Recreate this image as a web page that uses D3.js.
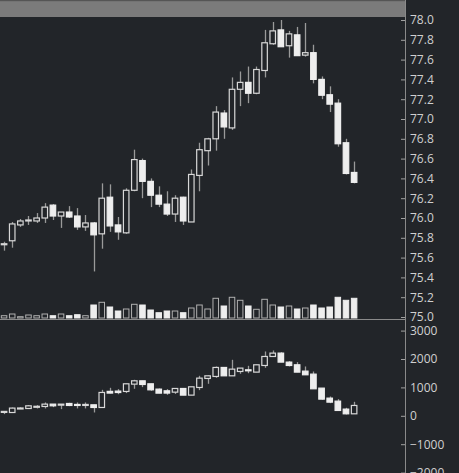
<!DOCTYPE html>
<html><head><meta charset="utf-8">
<script src="https://cdn.jsdelivr.net/npm/d3@7"></script>
<style>
html,body{margin:0;padding:0;background:#222529;overflow:hidden;}
svg{display:block;}
</style></head>
<body>
<script>
// Price candles
const open  = [75.73,75.77,75.93,75.97,75.97,76.00,76.13,76.02,76.06,76.02,75.91,75.95,75.84,76.21,75.93,75.85,76.28,76.58,76.37,76.23,76.14,76.04,76.21,75.96,76.43,76.68,76.80,77.06,76.91,77.30,77.37,77.26,77.49,77.76,77.90,77.74,77.85,77.645,77.67,77.40,77.245,77.16,76.76,76.46];
const high  = [75.76,75.96,75.99,76.02,76.05,76.15,76.14,76.06,76.12,76.10,76.03,75.96,76.35,76.34,76.01,76.30,76.69,76.60,76.40,76.32,76.27,76.23,76.215,76.49,76.76,76.81,77.13,77.09,77.42,77.48,77.53,77.53,77.90,77.98,78.00,77.89,77.93,77.97,77.75,77.43,77.33,77.20,76.80,76.57];
const low   = [75.67,75.70,75.91,75.93,75.95,75.95,75.98,75.90,76.00,75.88,75.87,75.46,75.69,75.86,75.78,75.84,76.27,76.20,76.11,76.11,76.02,75.96,75.93,75.96,76.27,76.53,76.68,76.80,76.89,77.13,77.16,77.25,77.42,77.75,77.73,77.62,77.64,77.63,77.36,77.20,77.07,76.72,76.44,76.35];
const close = [75.74,75.94,75.97,75.98,76.00,76.11,76.02,76.06,76.01,75.91,75.95,75.83,76.20,75.92,75.86,76.28,76.59,76.37,76.23,76.14,76.04,76.20,75.97,76.44,76.69,76.80,77.07,76.92,77.30,77.37,77.26,77.50,77.77,77.89,77.73,77.86,77.64,77.67,77.40,77.24,77.15,76.75,76.45,76.36];
const volume = [23,40,13,30,23,40,23,40,23,33,23,130,157,110,70,90,137,130,80,53,70,70,53,100,130,90,197,120,207,177,120,87,187,130,110,120,90,100,130,100,110,207,177,197];
// Indicator candles (lower panel)
const open2  = [145,116,265,257,320,328,411,375,434,400,375,387,293,860,870,857,1115,1232,1127,939,880,833,962,728,997,1315,1385,1702,1408,1561,1620,1538,1772,2089,2207,1890,1796,1573,1467,974,622,516,235,70];
const high2  = [160,290,300,380,375,470,411,411,458,470,470,390,915,986,940,1127,1268,1232,1127,960,940,962,962,1021,1408,1420,1736,1702,1972,1679,1760,1796,2265,2300,2240,1925,1890,1737,1560,974,680,587,282,493];
const low2   = [60,116,247,257,258,258,305,235,340,260,260,117,293,790,760,800,951,1010,880,798,740,770,728,728,904,1127,1338,1408,1408,1480,1500,1538,1690,2089,1890,1737,1538,1444,950,570,446,188,47,70];
const close2 = [155,271,275,352,335,411,352,411,364,375,400,293,822,800,820,1127,1232,1103,915,798,800,962,728,1021,1326,1408,1702,1408,1643,1679,1585,1796,2089,2207,1890,1772,1538,1444,951,587,481,188,70,364];
const priceTicks = d3.range(75.0, 78.001, 0.2);
const indTicks = [-2000,-1000,0,1000,2000,3000];

const W = 459, H = 473, axisX = 405;
const svg = d3.select("body").append("svg").attr("width", W).attr("height", H);
svg.append("rect").attr("width", W).attr("height", H).attr("fill", "#222529");

const idx = d3.range(open.length);
const x = d3.scaleLinear().domain([-0.5, 49.25]).range([0, axisX]);
const yP = d3.scaleLinear().domain([75, 78]).range([317, 20]);
const yV = d3.scaleLinear().domain([0, 300]).range([318, 288]);
const yI = d3.scaleLinear().domain([-2000, 3000]).range([472.6, 330.6]);
const bw = (x(1) - x(0)) * 0.8;

// header band
svg.append("rect").attr("x", 0).attr("y", 0).attr("width", axisX).attr("height", 17).attr("fill", "#7b7b7b");
svg.append("rect").attr("x", 0).attr("y", 0).attr("width", axisX).attr("height", 1.2).attr("fill", "#555");

const upStroke = "#d8d8d8", dnFill = "#eeeeee", wick = "#9a9a9a";

// volume bars
svg.append("g").selectAll("rect").data(idx).join("rect")
  .attr("x", i => x(i) - bw / 2 + 0.5)
  .attr("y", i => yV(volume[i]))
  .attr("width", bw - 1)
  .attr("height", i => yV(0) - yV(volume[i]))
  .attr("fill", i => close[i] > open[i] ? "#222529" : dnFill)
  .attr("stroke", i => close[i] > open[i] ? "#b0b0b0" : dnFill)
  .attr("stroke-width", 1);

function drawCandles(g, o, h, l, c, y) {
  g.append("g").selectAll("line").data(idx).join("line")
    .attr("x1", i => Math.round(x(i)) + 0.5).attr("x2", i => Math.round(x(i)) + 0.5)
    .attr("y1", i => y(h[i])).attr("y2", i => y(l[i]))
    .attr("stroke", wick).attr("stroke-width", 1.3);
  g.append("g").selectAll("rect").data(idx).join("rect")
    .attr("x", i => x(i) - bw / 2 + 0.5)
    .attr("y", i => y(Math.max(o[i], c[i])))
    .attr("width", bw - 1)
    .attr("height", i => Math.max(1, Math.abs(y(o[i]) - y(c[i]))))
    .attr("fill", i => c[i] > o[i] ? "#222529" : dnFill)
    .attr("stroke", i => c[i] > o[i] ? upStroke : dnFill)
    .attr("stroke-width", 1.2);
}
drawCandles(svg.append("g"), open, high, low, close, yP);
drawCandles(svg.append("g"), open2, high2, low2, close2, yI);

// separator
svg.append("line").attr("x1", 0).attr("x2", axisX).attr("y1", 319.5).attr("y2", 319.5)
  .attr("stroke", "#8a8a8a").attr("stroke-width", 1);

// axes
function styleAxis(g) {
  g.select(".domain").remove();
  g.selectAll(".tick line").attr("stroke", "#a0a0a0");
  g.selectAll(".tick text").attr("fill", "#d0d0d0")
    .style("font-family", "'Open Sans', 'Noto Sans', sans-serif").style("font-size", "12px");
}
svg.append("g").attr("transform", `translate(${axisX},0)`)
  .call(d3.axisRight(yP).tickValues(priceTicks).tickFormat(d3.format(".1f")).tickSizeInner(-4).tickSizeOuter(0).tickPadding(5))
  .call(styleAxis);
svg.append("g").attr("transform", `translate(${axisX},0)`)
  .call(d3.axisRight(yI).tickValues(indTicks).tickFormat(d3.format("d")).tickSizeInner(-4).tickSizeOuter(0).tickPadding(5))
  .call(styleAxis);
svg.append("line").attr("x1", axisX + 0.5).attr("x2", axisX + 0.5).attr("y1", 0).attr("y2", H)
  .attr("stroke", "#8a8a8a").attr("stroke-width", 1);
</script>
</body></html>
